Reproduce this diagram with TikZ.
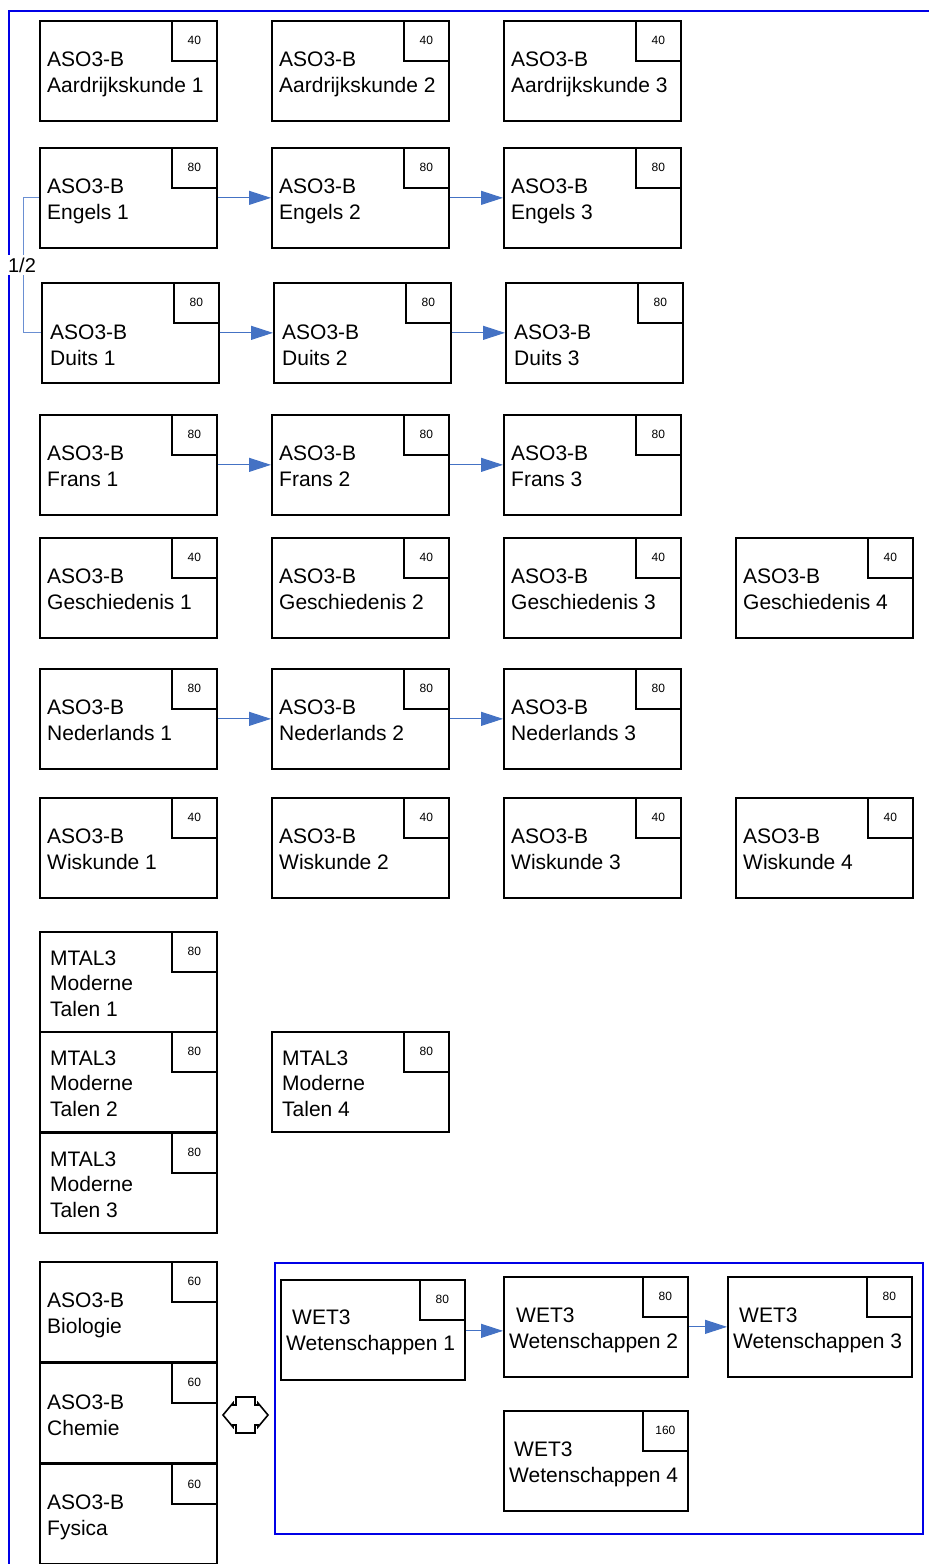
\documentclass[tikz,border=0pt]{standalone}
\usepackage{fontspec}
\setmainfont{Liberation Sans}
\usetikzlibrary{arrows.meta}
\definecolor{arrowblue}{HTML}{4472C4}
\definecolor{linkblue}{HTML}{6A8FD2}
\definecolor{frameblue}{HTML}{0000E6}
\tikzset{
  cbox/.style={draw, line width=1.7pt, minimum width=177pt, minimum height=100pt, anchor=north west, inner sep=0pt},
  widebox/.style={minimum width=184pt},
  nbox/.style={draw, line width=1.7pt, minimum width=45pt, minimum height=40pt, anchor=north east, inner sep=0pt, font=\fontsize{12}{14}\selectfont},
  ctext/.style={anchor=base west, inner sep=0pt, font=\fontsize{21}{25}\selectfont},
  flow/.style={draw=arrowblue, line width=1pt, -{Triangle[length=22pt,width=14pt]}},
  link/.style={draw=linkblue, line width=1pt},
  frame/.style={draw=frameblue, line width=2pt},
}
\newcommand\course[9][]{%
  \node[cbox,#1] (#2) at (#3,#4) {};
  \node[nbox] (#2n) at (#2.north east) {#5};
  \node[ctext] (#2a) at ([xshift=#8pt,yshift=-#9pt]#2.north west) {#6};
  \node[ctext] (#2b) at ([yshift=-26pt]#2a.base west) {#7};
}
\newcommand\coursethree[7]{%
  \node[cbox] (#1) at (#2,#3) {};
  \node[nbox] (#1n) at (#1.north east) {#4};
  \node[ctext] (#1a) at ([xshift=11pt,yshift=-34pt]#1.north west) {#5};
  \node[ctext] (#1b) at ([yshift=-25.5pt]#1a.base west) {#6};
  \node[ctext] (#1c) at ([yshift=-25.5pt]#1b.base west) {#7};
}
\begin{document}
\begin{tikzpicture}[x=1pt,y=-1pt]
\useasboundingbox (0,0) rectangle (929,1564);
\fill[white] (0,0) rectangle (929,1564);
% outer frame
\draw[frame] (9,1564) -- (9,11) -- (929,11);
% rows
\course{a1}{39}{20}{40}{ASO3-B}{Aardrijkskunde 1}{8}{46}
\course{a2}{271}{20}{40}{ASO3-B}{Aardrijkskunde 2}{8}{46}
\course{a3}{503}{20}{40}{ASO3-B}{Aardrijkskunde 3}{8}{46}
\course{e1}{39}{147}{80}{ASO3-B}{Engels 1}{8}{46}
\course{e2}{271}{147}{80}{ASO3-B}{Engels 2}{8}{46}
\course{e3}{503}{147}{80}{ASO3-B}{Engels 3}{8}{46}
\course{d1}{41}{282}{80}{ASO3-B}{Duits 1}{9}{57}
\course{d2}{273}{282}{80}{ASO3-B}{Duits 2}{9}{57}
\course{d3}{505}{282}{80}{ASO3-B}{Duits 3}{9}{57}
\course{f1}{39}{414}{80}{ASO3-B}{Frans 1}{8}{46}
\course{f2}{271}{414}{80}{ASO3-B}{Frans 2}{8}{46}
\course{f3}{503}{414}{80}{ASO3-B}{Frans 3}{8}{46}
\course{g1}{39}{537}{40}{ASO3-B}{Geschiedenis 1}{8}{46}
\course{g2}{271}{537}{40}{ASO3-B}{Geschiedenis 2}{8}{46}
\course{g3}{503}{537}{40}{ASO3-B}{Geschiedenis 3}{8}{46}
\course{g4}{735}{537}{40}{ASO3-B}{Geschiedenis 4}{8}{46}
\course{n1}{39}{668}{80}{ASO3-B}{Nederlands 1}{8}{46}
\course{n2}{271}{668}{80}{ASO3-B}{Nederlands 2}{8}{46}
\course{n3}{503}{668}{80}{ASO3-B}{Nederlands 3}{8}{46}
\course{w1}{39}{797}{40}{ASO3-B}{Wiskunde 1}{8}{46}
\course{w2}{271}{797}{40}{ASO3-B}{Wiskunde 2}{8}{46}
\course{w3}{503}{797}{40}{ASO3-B}{Wiskunde 3}{8}{46}
\course{w4}{735}{797}{40}{ASO3-B}{Wiskunde 4}{8}{46}
\coursethree{m1}{39}{931}{80}{MTAL3}{Moderne}{Talen 1}
\coursethree{m2}{39}{1031}{80}{MTAL3}{Moderne}{Talen 2}
\coursethree{m3}{39}{1132}{80}{MTAL3}{Moderne}{Talen 3}
\coursethree{m4}{271}{1031}{80}{MTAL3}{Moderne}{Talen 4}
\course{bio}{39}{1261}{60}{ASO3-B}{Biologie}{8}{46}
\course{che}{39}{1362}{60}{ASO3-B}{Chemie}{8}{47}
\course{fys}{39}{1463}{60}{ASO3-B}{Fysica}{8}{46}
% WET group
\node[draw=frameblue, line width=1.6pt, minimum width=648pt, minimum height=271pt, anchor=north west, inner sep=0pt] (wetframe) at (274,1262) {};
\course[widebox]{wet1}{280}{1279}{80}{\hspace{6pt}WET3}{Wetenschappen 1}{6}{45}
\course[widebox]{wet2}{503}{1276}{80}{\hspace{7pt}WET3}{Wetenschappen 2}{6}{46}
\course[widebox]{wet3}{727}{1276}{80}{\hspace{6pt}WET3}{Wetenschappen 3}{6}{46}
\course[widebox]{wet4}{503}{1410}{160}{\hspace{5pt}WET3}{Wetenschappen 4}{6}{46}
% arrows
\draw[flow] (e1.east) -- (e2.west);
\draw[flow] (e2.east) -- (e3.west);
\draw[flow] (d1.east) -- (d2.west);
\draw[flow] (d2.east) -- (d3.west);
\draw[flow] (f1.east) -- (f2.west);
\draw[flow] (f2.east) -- (f3.west);
\draw[flow] (n1.east) -- (n2.west);
\draw[flow] (n2.east) -- (n3.west);
\draw[flow] ([yshift=-1pt]wet1.east) -- ([yshift=-1pt]wet1.east -| wet2.west);
\draw[flow] (wet2.east) -- (wet3.west);
% 1/2 connector
\draw[link] (e1.west) -- ++(-16,0) |- (d1.west);
\node[fill=white, inner sep=2.5pt, font=\fontsize{20}{24}\selectfont] (half) at (22,265) {1/2};
% double arrow symbol
\draw[line width=1.6pt, line join=miter, fill=white]
  (236,1397) -- (255,1397) -- (255,1405) -- (258,1405) -- (258,1403) -- (268,1415)
  -- (258,1427) -- (258,1425) -- (255,1425) -- (255,1433) -- (236,1433) -- (236,1425)
  -- (233,1425) -- (233,1427) -- (223,1415) -- (233,1403) -- (233,1405) -- (236,1405) -- cycle;
\end{tikzpicture}
\end{document}
